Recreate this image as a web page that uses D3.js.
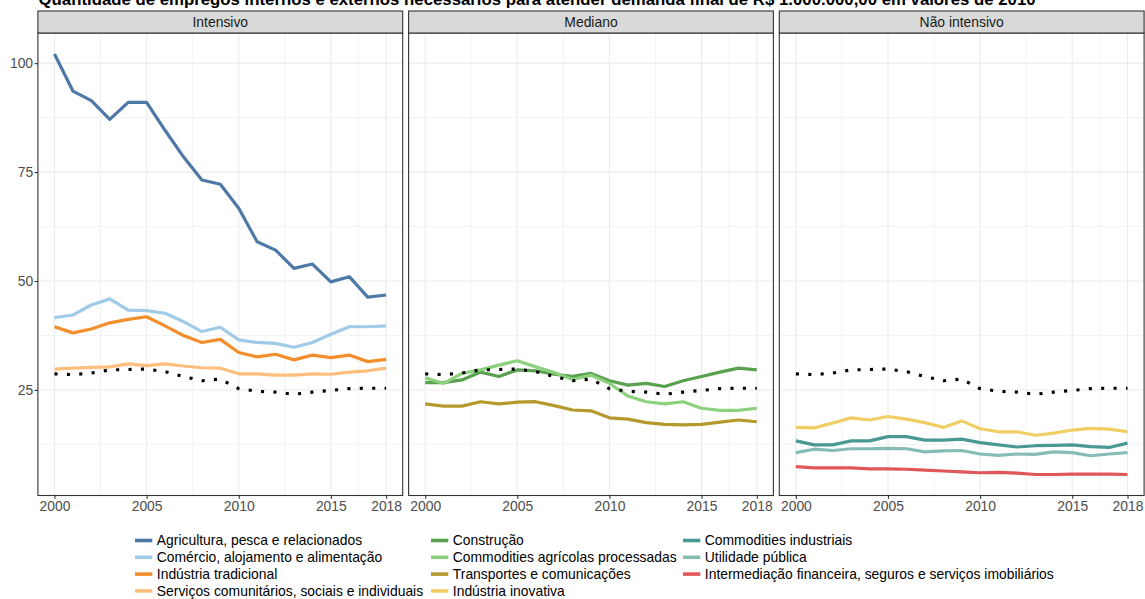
<!DOCTYPE html>
<html>
<head>
<meta charset="utf-8">
<script src="https://cdn.jsdelivr.net/npm/d3@7/dist/d3.min.js"></script>
<style>
body { margin: 0; background: #fff; }
svg { display: block; font-family: "Liberation Sans", Arial, sans-serif; }
</style>
</head>
<body>
<svg id="chart" width="1145" height="599"></svg>
<script>
'use strict';
let title = "Quantidade de empregos internos e externos necessários para atender demanda final de R$ 1.000.000,00 em valores de 2010";
let years = [2000, 2001, 2002, 2003, 2004, 2005, 2006, 2007, 2008, 2009, 2010, 2011, 2012, 2013, 2014, 2015, 2016, 2017, 2018];
let panels = ["Intensivo", "Mediano", "Não intensivo"];
let xBreaks = [2000, 2005, 2010, 2015, 2018];
let yBreaks = [25, 50, 75, 100];

// Intensivo
let agricultura = [102.1, 93.6, 91.4, 87.1, 91.0, 91.0, 84.6, 78.5, 73.2, 72.2, 66.7, 59.0, 57.1, 52.9, 53.9, 49.8, 51.0, 46.3, 46.8];
let comercio    = [41.6, 42.2, 44.5, 45.9, 43.3, 43.2, 42.6, 40.7, 38.4, 39.4, 36.5, 35.9, 35.7, 34.8, 35.9, 37.8, 39.5, 39.5, 39.7];
let industriaTradicional = [39.5, 38.1, 39.0, 40.4, 41.2, 41.8, 39.7, 37.5, 35.9, 36.6, 33.6, 32.6, 33.2, 31.9, 33.0, 32.4, 33.0, 31.5, 32.0];
let servicos    = [29.8, 30.0, 30.2, 30.3, 31.0, 30.6, 31.0, 30.5, 30.1, 30.0, 28.7, 28.7, 28.4, 28.4, 28.7, 28.6, 29.1, 29.4, 30.0];
// Mediano
let construcao  = [26.7, 26.7, 27.3, 29.1, 28.1, 29.6, 29.4, 28.6, 28.1, 28.8, 27.1, 26.1, 26.5, 25.8, 27.1, 28.1, 29.1, 30.0, 29.6];
let commoditiesAgricolas = [27.8, 26.5, 28.8, 29.6, 30.7, 31.7, 30.3, 29.0, 27.4, 28.4, 26.5, 23.6, 22.3, 21.8, 22.3, 20.8, 20.3, 20.3, 20.8];
let transportes = [21.8, 21.3, 21.3, 22.3, 21.8, 22.2, 22.3, 21.4, 20.4, 20.2, 18.6, 18.3, 17.5, 17.1, 17.0, 17.1, 17.6, 18.1, 17.7];
// Não intensivo
let industriaInovativa = [16.4, 16.3, 17.4, 18.6, 18.1, 18.9, 18.3, 17.5, 16.4, 17.9, 16.1, 15.4, 15.4, 14.6, 15.1, 15.8, 16.2, 16.0, 15.4];
let commoditiesIndustriais = [13.3, 12.4, 12.4, 13.3, 13.3, 14.3, 14.3, 13.5, 13.5, 13.7, 12.9, 12.4, 11.9, 12.2, 12.3, 12.4, 12.0, 11.8, 12.8];
let utilidadePublica = [10.6, 11.4, 11.1, 11.5, 11.5, 11.6, 11.5, 10.8, 11.0, 11.1, 10.3, 10.0, 10.3, 10.2, 10.8, 10.6, 9.9, 10.3, 10.6];
let intermediacao = [7.4, 7.1, 7.1, 7.1, 6.9, 6.9, 6.8, 6.6, 6.4, 6.2, 6.0, 6.1, 5.9, 5.6, 5.6, 5.7, 5.7, 5.7, 5.6];
// linha pontilhada (igual nos três painéis)
let media = [28.7, 28.5, 28.9, 29.6, 29.7, 29.8, 29.2, 28.1, 27.1, 27.5, 25.3, 24.7, 24.5, 24.0, 24.5, 24.9, 25.3, 25.4, 25.4];

let sectorNames = [
    "Agricultura, pesca e relacionados",
    "Comércio, alojamento e alimentação",
    "Indústria tradicional",
    "Serviços comunitários, sociais e individuais",
    "Construção",
    "Commodities agrícolas processadas",
    "Transportes e comunicações",
    "Indústria inovativa",
    "Commodities industriais",
    "Utilidade pública",
    "Intermediação financeira, seguros e serviços imobiliários"
];
let sectorPanels = ["Intensivo", "Intensivo", "Intensivo", "Intensivo",
    "Mediano", "Mediano", "Mediano", "Não intensivo",
    "Não intensivo", "Não intensivo", "Não intensivo"];
let sectorColors = ["#4e79a7", "#a0cbe8", "#f28e2b", "#ffbe7d",
    "#59a14f", "#8cd17d", "#b6992d", "#f1ce63",
    "#499894", "#86bcb6", "#e15759"];
let sectorValues = [agricultura, comercio, industriaTradicional, servicos,
    construcao, commoditiesAgricolas, transportes, industriaInovativa,
    commoditiesIndustriais, utilidadePublica, intermediacao];

let sectors = sectorNames.map((name, i) => ({
    name: name,
    panel: sectorPanels[i],
    color: sectorColors[i],
    data: years.map((yr, j) => ({year: yr, value: sectorValues[i][j]}))
}));
let mediaData = years.map((yr, j) => ({year: yr, value: media[j]}));

drawChart();

function drawChart() {
    let svg = d3.select("#chart"),
        plotTop = 33, plotBottom = 495.5,
        stripTop = 11,
        left = 37.9, panelWidth = 364.8, panelGap = 5.9,
        fontSize = "13.9px";

    svg.append("text")
        .attr("x", 38.5)
        .attr("y", 4.5)
        .style("font-size", "16.8px")
        .style("font-weight", "bold")
        .attr("fill", "#000")
        .text(title);

    let allValues = sectorValues.flat().concat(media);
    let yExt = d3.extent(allValues);
    let yPad = (yExt[1] - yExt[0]) * 0.05;
    let y = d3.scaleLinear()
        .domain([yExt[0] - yPad, yExt[1] + yPad])
        .range([plotBottom, plotTop]);
    let yStep = yBreaks[1] - yBreaks[0];
    let yMinor = yBreaks.concat([yBreaks[yBreaks.length - 1] + yStep])
        .map(b => b - yStep / 2)
        .filter(v => v > y.domain()[0] && v < y.domain()[1]);

    let xExt = d3.extent(years);
    let xPad = (xExt[1] - xExt[0]) * 0.05;
    let xMinor = xBreaks.slice(1).map((b, i) => (b + xBreaks[i]) / 2);

    panels.forEach((panel, i) => {
        let x0 = left + i * (panelWidth + panelGap);
        let x = d3.scaleLinear()
            .domain([xExt[0] - xPad, xExt[1] + xPad])
            .range([x0, x0 + panelWidth]);
        let line = d3.line()
            .x(d => x(d.year))
            .y(d => y(d.value));

        let g = svg.append("g").attr("class", "panel");

        // grid
        g.selectAll(null).data(yMinor).enter().append("line")
            .attr("x1", x0).attr("x2", x0 + panelWidth)
            .attr("y1", d => y(d)).attr("y2", d => y(d))
            .attr("stroke", "#ebebeb").attr("stroke-width", 0.6);
        g.selectAll(null).data(xMinor).enter().append("line")
            .attr("y1", plotTop).attr("y2", plotBottom)
            .attr("x1", d => x(d)).attr("x2", d => x(d))
            .attr("stroke", "#ebebeb").attr("stroke-width", 0.6);
        g.selectAll(null).data(yBreaks).enter().append("line")
            .attr("x1", x0).attr("x2", x0 + panelWidth)
            .attr("y1", d => y(d)).attr("y2", d => y(d))
            .attr("stroke", "#ebebeb").attr("stroke-width", 1.1);
        g.selectAll(null).data(xBreaks).enter().append("line")
            .attr("y1", plotTop).attr("y2", plotBottom)
            .attr("x1", d => x(d)).attr("x2", d => x(d))
            .attr("stroke", "#ebebeb").attr("stroke-width", 1.1);

        // series
        g.selectAll(null)
            .data(sectors.filter(d => d.panel === panel))
            .enter().append("path")
            .attr("fill", "none")
            .attr("stroke", d => d.color)
            .attr("stroke-width", 3.2)
            .attr("stroke-linejoin", "round")
            .attr("d", d => line(d.data));

        g.append("path")
            .attr("fill", "none")
            .attr("stroke", "#000")
            .attr("stroke-width", 3.1)
            .attr("stroke-dasharray", "3.1,9.3")
            .attr("d", line(mediaData));

        // border
        g.append("rect")
            .attr("x", x0).attr("y", plotTop)
            .attr("width", panelWidth).attr("height", plotBottom - plotTop)
            .attr("fill", "none").attr("stroke", "#333").attr("stroke-width", 1.1);

        // strip
        g.append("rect")
            .attr("x", x0).attr("y", stripTop)
            .attr("width", panelWidth).attr("height", plotTop - stripTop)
            .attr("fill", "#d9d9d9").attr("stroke", "#333").attr("stroke-width", 1.1);
        g.append("text")
            .attr("x", x0 + panelWidth / 2)
            .attr("y", (stripTop + plotTop) / 2 + 5)
            .attr("text-anchor", "middle")
            .style("font-size", fontSize)
            .attr("fill", "#1a1a1a")
            .text(panel);

        // x axis
        let xAxis = g.append("g")
            .attr("transform", "translate(0," + plotBottom + ")")
            .call(d3.axisBottom(x).tickValues(xBreaks).tickFormat(d3.format("d"))
                .tickSizeInner(3.3).tickSizeOuter(0).tickPadding(2.2));
        xAxis.select(".domain").remove();
        xAxis.selectAll(".tick line").attr("stroke", "#333").attr("stroke-width", 1.1);
        xAxis.selectAll(".tick text")
            .attr("fill", "#4d4d4d")
            .style("font-size", fontSize)
            .style("font-family", "'Liberation Sans', Arial, sans-serif");

        if (i === 0) {
            let yAxis = g.append("g")
                .attr("transform", "translate(" + x0 + ",0)")
                .call(d3.axisLeft(y).tickValues(yBreaks)
                    .tickSizeInner(3.3).tickSizeOuter(0).tickPadding(1.5));
            yAxis.select(".domain").remove();
            yAxis.selectAll(".tick line").attr("stroke", "#333").attr("stroke-width", 1.1);
            yAxis.selectAll(".tick text")
                .attr("fill", "#4d4d4d")
                .style("font-size", fontSize)
                .style("font-family", "'Liberation Sans', Arial, sans-serif");
        }
    });

    // legend, 4 rows filled by column
    let legendCols = [135, 431, 683],
        legendRows = [540.5, 557.3, 574.1, 590.9],
        keyWidth = 17.3;
    let leg = svg.append("g").attr("class", "legend")
        .selectAll("g")
        .data(sectors)
        .enter().append("g")
        .attr("transform", (d, i) =>
            "translate(" + legendCols[Math.floor(i / 4)] + "," + legendRows[i % 4] + ")");
    leg.append("line")
        .attr("x1", 0).attr("x2", keyWidth)
        .attr("stroke", d => d.color)
        .attr("stroke-width", 3.6);
    leg.append("text")
        .attr("x", keyWidth + 4.5)
        .attr("y", 4.9)
        .style("font-size", fontSize)
        .attr("fill", "#000")
        .text(d => d.name);
}
</script>
</body>
</html>
